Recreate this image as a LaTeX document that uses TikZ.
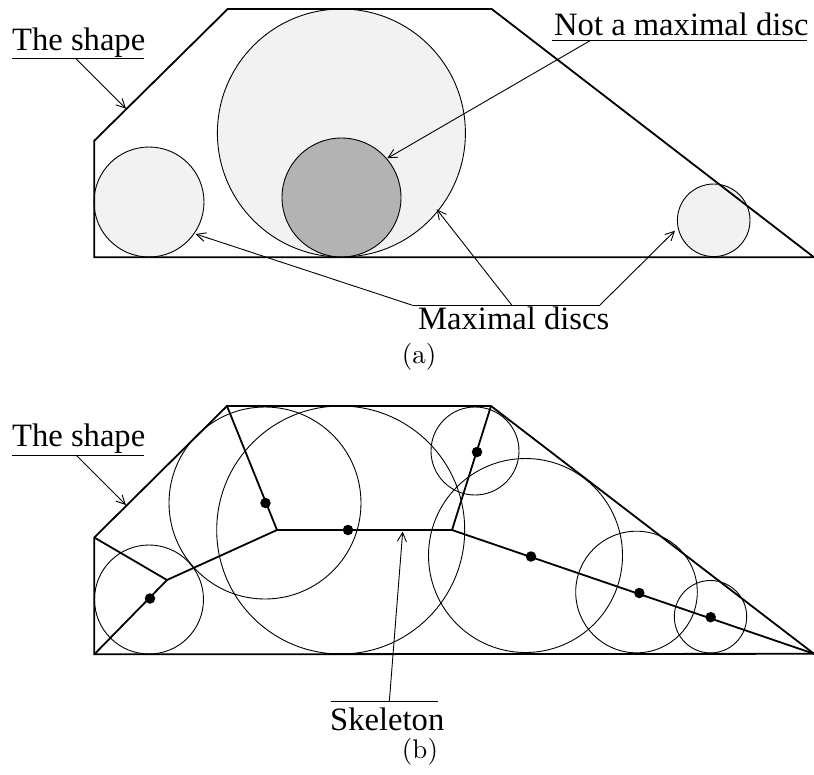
\documentclass[tikz,border=0pt]{standalone}
\usepackage{fontspec}
\newfontfamily\tms{Liberation Serif}
\usetikzlibrary{arrows.meta}
\definecolor{lightdisc}{HTML}{F2F2F2}
\definecolor{darkdisc}{HTML}{B3B3B3}
\newcommand{\captxt}[1]{\scalebox{2.7}{#1}}
\begin{document}
\begin{tikzpicture}[x=1pt,y=-1pt,
  outline/.style={line width=1.8pt, line join=miter},
  disc/.style={line width=0.9pt},
  skel/.style={line width=1.8pt, line join=miter},
  lbl/.style={font=\tms\fontsize{32.6}{36}\selectfont, inner sep=0pt, anchor=base west},
  rule/.style={line width=0.9pt},
  ptr/.style={line width=0.9pt, -{Straight Barb[length=9pt,width=9pt]}},
  dotmark/.style={circle, fill=black, draw=none, inner sep=0pt, minimum size=10.5pt},
  capt/.style={inner sep=0pt}]
\useasboundingbox (0,0) rectangle (814,774);

% ---------------- (a) ----------------
\coordinate (aBL) at (94.3,257.3);
\coordinate (aLT) at (94.3,140.7);
\coordinate (aTL) at (227.7,9);
\coordinate (aTR) at (491.7,9);
\coordinate (aBR) at (814,257.3);

\draw[disc, fill=lightdisc] (341.4,133) circle[radius=124pt];
\draw[disc, fill=darkdisc] (341.5,197.5) circle[radius=59.5pt];
\draw[disc, fill=lightdisc] (149,202) circle[radius=55pt];
\draw[disc, fill=lightdisc] (713.7,220.3) circle[radius=36.3pt];

\draw[outline] (aBL) -- (aLT) -- (aTL) -- (aTR) -- (aBR) -- cycle;

\node[lbl] (ts1) at (12,50.7) {The shape};
\coordinate (ts1L) at (12,58.7);
\coordinate (ts1R) at (144,58.7);
\coordinate (ts1A) at (76,58.7);
\coordinate (ts1T) at (126,108.7);
\draw[rule] (ts1L) -- (ts1R);
\draw[ptr] (ts1A) -- (ts1T);

\node[lbl] (nm) at (554,35) {Not a maximal disc};
\coordinate (nmL) at (551.7,40.7);
\coordinate (nmR) at (806.7,40.7);
\coordinate (nmA) at (590,40.7);
\coordinate (nmT) at (387.3,158.3);
\draw[rule] (nmL) -- (nmR);
\draw[ptr] (nmA) -- (nmT);

\node[lbl] (md) at (418,329.3) {Maximal discs};
\coordinate (mdL) at (411.7,305);
\coordinate (mdM) at (511.7,305);
\coordinate (mdR) at (600,305);
\coordinate (mdT1) at (195.7,234);
\coordinate (mdT2) at (436.7,209.3);
\coordinate (mdT3) at (675,230.7);
\draw[rule] (mdL) -- (mdR);
\draw[ptr] (mdL) -- (mdT1);
\draw[ptr] (mdM) -- (mdT2);
\draw[ptr] (mdR) -- (mdT3);

\node[capt] (capa) at (419,357) {\captxt{(a)}};

% ---------------- (b) ----------------
\coordinate (bBL) at (94.3,654.3);
\coordinate (bLT) at (94.3,537.5);
\coordinate (bTL) at (227,406);
\coordinate (bTR) at (491,406);
\coordinate (bBR) at (814,653.8);

\draw[disc] (149,599.5) circle[radius=54.5pt];
\draw[disc] (265,503) circle[radius=96pt];
\draw[disc] (340.7,530) circle[radius=124pt];
\draw[disc] (475,451) circle[radius=44pt];
\draw[disc] (525.5,555.5) circle[radius=97pt];
\draw[disc] (636.5,592) circle[radius=60.8pt];
\draw[disc] (710.5,616.7) circle[radius=36.2pt];

\draw[outline] (bBL) -- (bLT) -- (bTL) -- (bTR) -- (bBR) -- cycle;

\coordinate (J1) at (167,580);
\coordinate (J2) at (277,530);
\coordinate (J3) at (452,530);
\draw[skel] (bLT) -- (J1) -- (bBL);
\draw[skel] (J1) -- (J2) -- (bTL);
\draw[skel] (J2) -- (J3) -- (bTR);
\draw[skel] (J3) -- (bBR);

\node[dotmark] (d1) at (150,598.5) {};
\node[dotmark] (d2) at (265.5,503) {};
\node[dotmark] (d3) at (348,530) {};
\node[dotmark] (d4) at (477,452) {};
\node[dotmark] (d5) at (531,556.5) {};
\node[dotmark] (d6) at (639.3,593) {};
\node[dotmark] (d7) at (710.7,617.2) {};

\node[lbl] (ts2) at (12,446.7) {The shape};
\coordinate (ts2L) at (12,455);
\coordinate (ts2R) at (144,455);
\coordinate (ts2A) at (76,455);
\coordinate (ts2T) at (126,505);
\draw[rule] (ts2L) -- (ts2R);
\draw[ptr] (ts2A) -- (ts2T);

\node[lbl] (sk) at (330,730.7) {Skeleton};
\coordinate (skL) at (331,701.7);
\coordinate (skR) at (438.3,701.7);
\coordinate (skA) at (389.3,701.7);
\coordinate (skT) at (402.7,531.5);
\draw[rule] (skL) -- (skR);
\draw[ptr] (skA) -- (skT);

\node[capt] (capb) at (420,752) {\captxt{(b)}};
\end{tikzpicture}
\end{document}
